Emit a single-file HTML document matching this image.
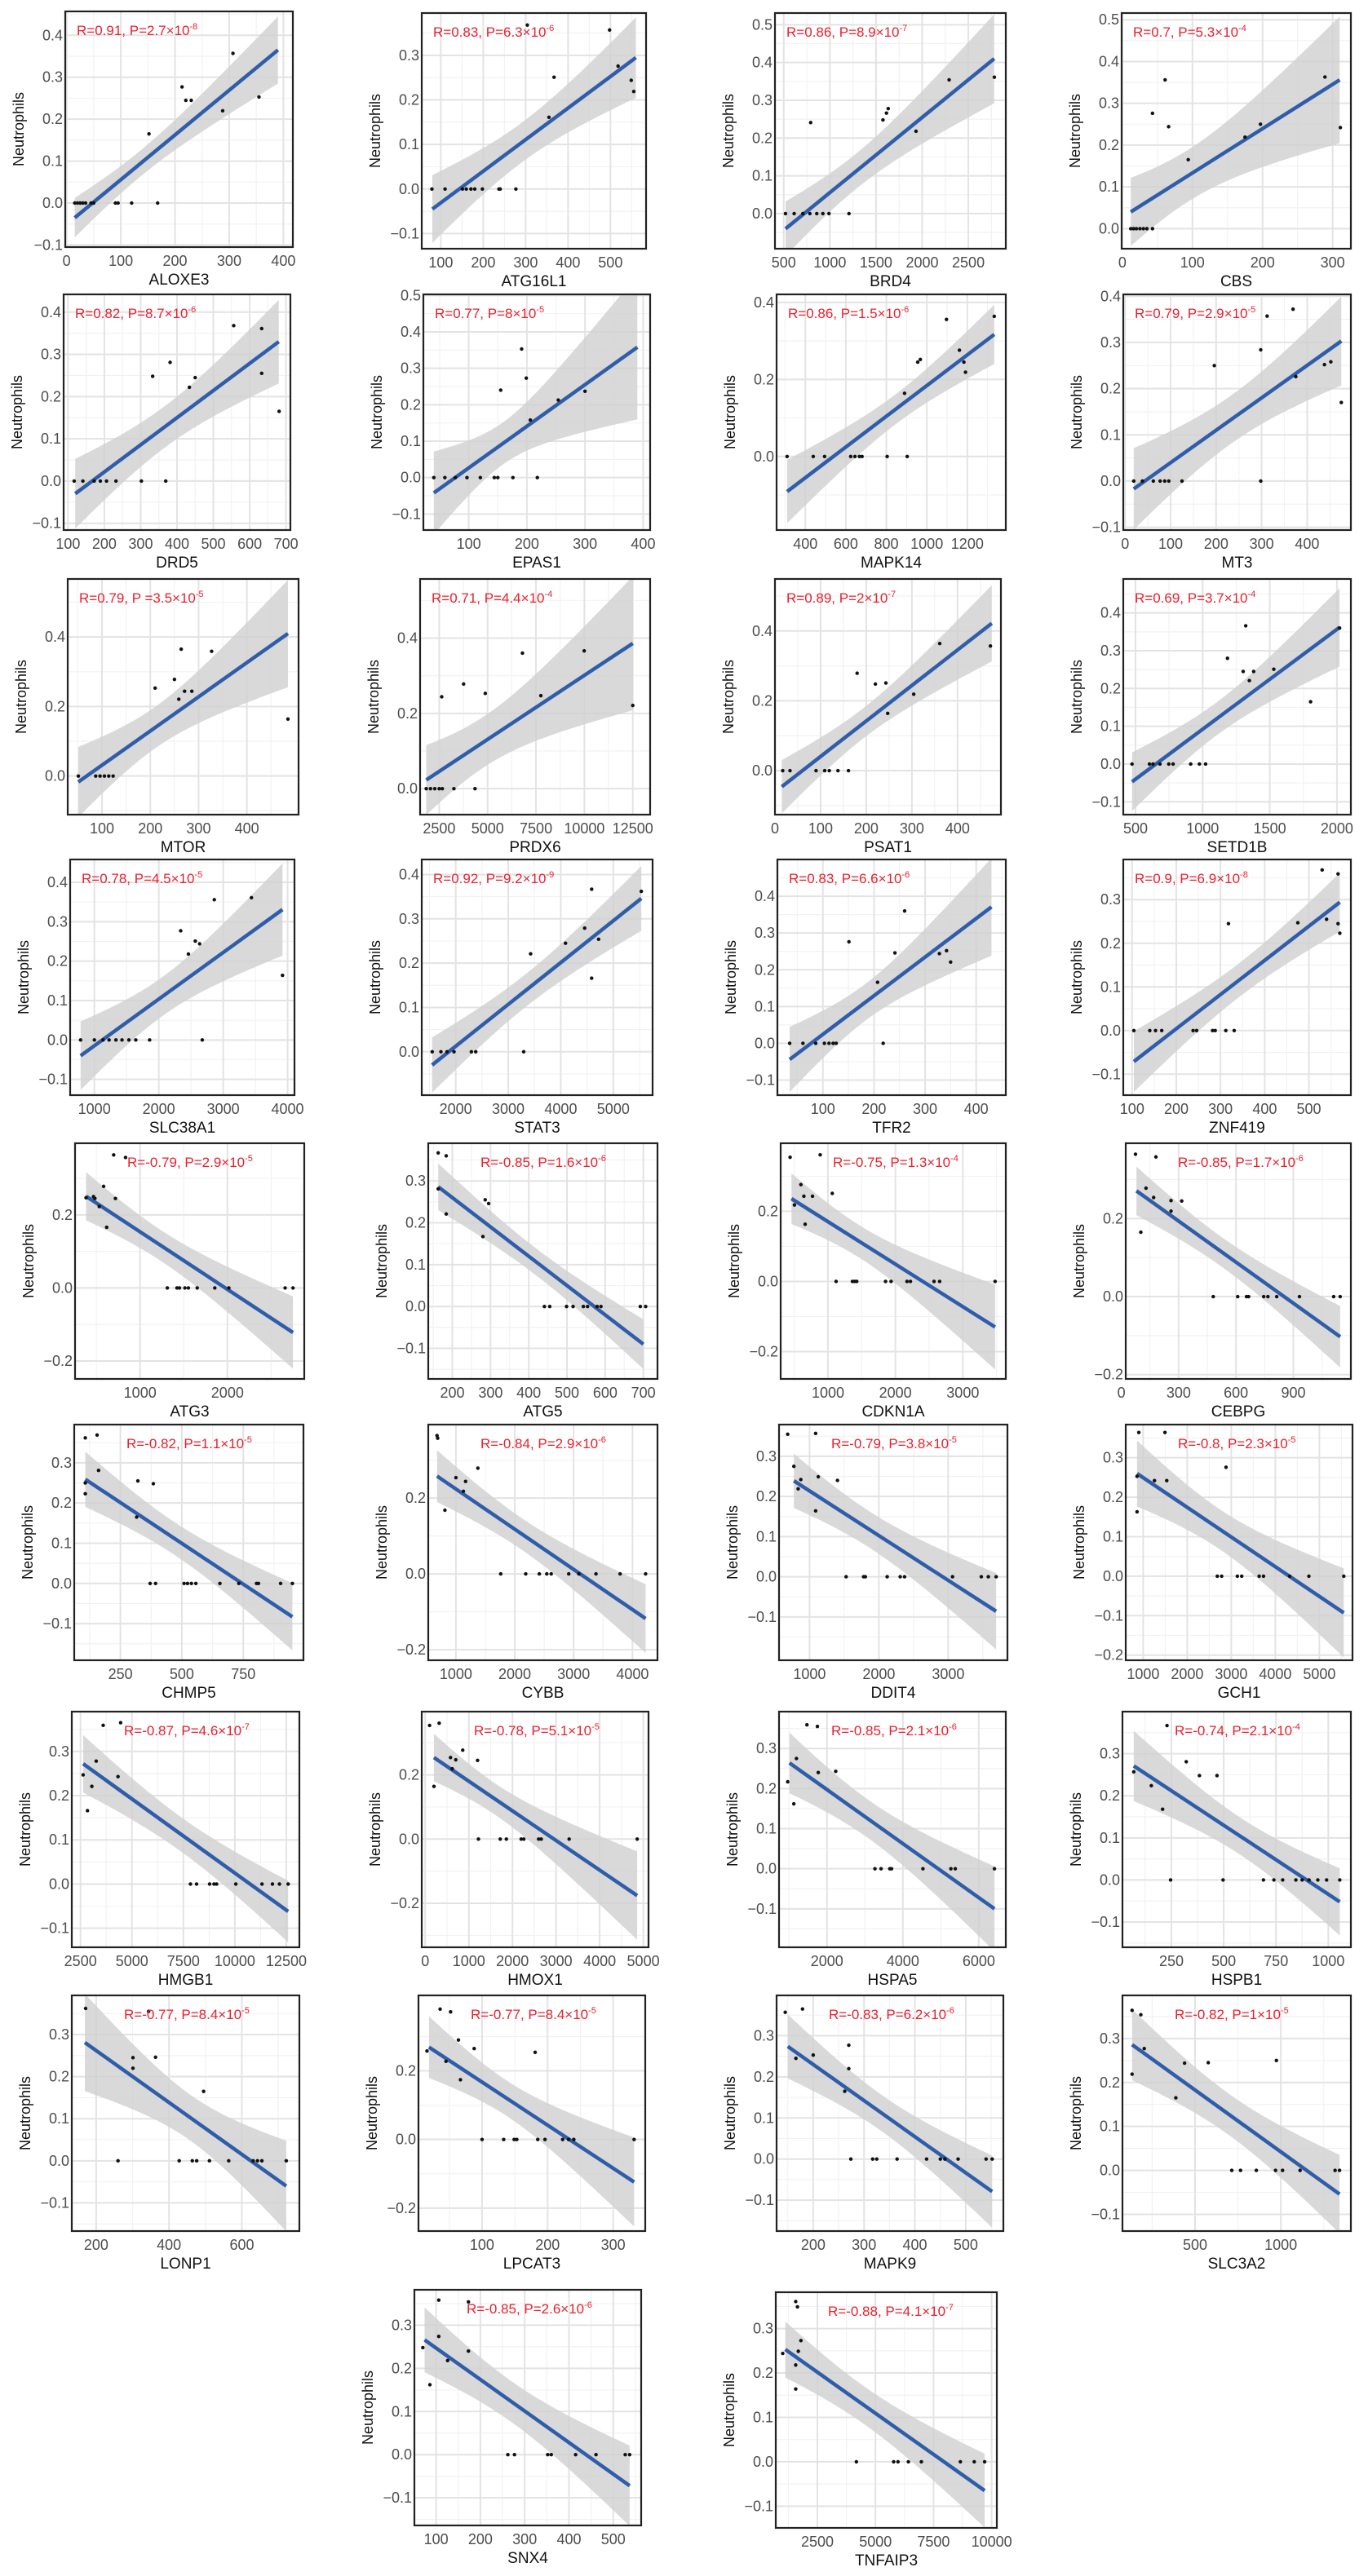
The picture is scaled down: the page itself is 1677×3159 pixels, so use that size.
<!DOCTYPE html>
<html><head><meta charset="utf-8">
<style>
html,body{margin:0;padding:0;background:#fff;}
svg{display:block;font-family:"Liberation Sans",Arial,sans-serif;}
</style></head>
<body>
<svg id="fig" width="1677" height="3159" viewBox="0 0 1677 3159" xmlns="http://www.w3.org/2000/svg"></svg>
<script>
const genes=["ALOXE3","ATG16L1","BRD4","CBS","DRD5","EPAS1","MAPK14","MT3","MTOR","PRDX6","PSAT1","SETD1B","SLC38A1","STAT3","TFR2","ZNF419","ATG3","ATG5","CDKN1A","CEBPG","CHMP5","CYBB","DDIT4","GCH1","HMGB1","HMOX1","HSPA5","HSPB1","LONP1","LPCAT3","MAPK9","SLC3A2","SNX4","TNFAIP3"];
const rVals=["0.91","0.83","0.86","0.7","0.82","0.77","0.86","0.79","0.79","0.71","0.89","0.69","0.78","0.92","0.83","0.9","-0.79","-0.85","-0.75","-0.85","-0.82","-0.84","-0.79","-0.8","-0.87","-0.78","-0.85","-0.74","-0.77","-0.77","-0.83","-0.82","-0.85","-0.88"];
const pMant=["2.7","6.3","8.9","5.3","8.7","8","1.5","2.9","3.5","4.4","2","3.7","4.5","9.2","6.6","6.9","2.9","1.6","1.3","1.7","1.1","2.9","3.8","2.3","4.6","5.1","2.1","2.1","8.4","8.4","6.2","1","2.6","4.1"];
const pExp=["-8","-6","-7","-4","-6","-5","-6","-5","-5","-4","-7","-4","-5","-9","-6","-8","-5","-6","-4","-6","-5","-6","-5","-5","-7","-5","-6","-4","-5","-5","-6","-5","-6","-7"];
const xTicks=[[0,100,200,300,400],[100,200,300,400,500],[500,1000,1500,2000,2500],[0,100,200,300],[100,200,300,400,500,600,700],[100,200,300,400],[400,600,800,1000,1200],[0,100,200,300,400],[100,200,300,400],[2500,5000,7500,10000,12500],[0,100,200,300,400],[500,1000,1500,2000],[1000,2000,3000,4000],[2000,3000,4000,5000],[100,200,300,400],[100,200,300,400,500],[1000,2000],[200,300,400,500,600,700],[1000,2000,3000],[0,300,600,900],[250,500,750],[1000,2000,3000,4000],[1000,2000,3000],[1000,2000,3000,4000,5000],[2500,5000,7500,10000,12500],[0,1000,2000,3000,4000,5000],[2000,4000,6000],[250,500,750,1000],[200,400,600],[100,200,300],[200,300,400,500],[500,1000],[100,200,300,400,500],[2500,5000,7500,10000]];
const yTicks=[[-0.1,0,0.1,0.2,0.3,0.4],[-0.1,0,0.1,0.2,0.3],[0,0.1,0.2,0.3,0.4,0.5],[0,0.1,0.2,0.3,0.4,0.5],[-0.1,0,0.1,0.2,0.3,0.4],[-0.1,0,0.1,0.2,0.3,0.4,0.5],[0,0.2,0.4],[-0.1,0,0.1,0.2,0.3,0.4],[0,0.2,0.4],[0,0.2,0.4],[0,0.2,0.4],[-0.1,0,0.1,0.2,0.3,0.4],[-0.1,0,0.1,0.2,0.3,0.4],[0,0.1,0.2,0.3,0.4],[-0.1,0,0.1,0.2,0.3,0.4],[-0.1,0,0.1,0.2,0.3],[-0.2,0,0.2],[-0.1,0,0.1,0.2,0.3],[-0.2,0,0.2],[-0.2,0,0.2],[-0.1,0,0.1,0.2,0.3],[-0.2,0,0.2],[-0.1,0,0.1,0.2,0.3],[-0.2,-0.1,0,0.1,0.2,0.3],[-0.1,0,0.1,0.2,0.3],[-0.2,0,0.2],[-0.1,0,0.1,0.2,0.3],[-0.1,0,0.1,0.2,0.3],[-0.1,0,0.1,0.2,0.3],[-0.2,0,0.2],[-0.1,0,0.1,0.2,0.3],[-0.1,0,0.1,0.2,0.3],[-0.1,0,0.1,0.2,0.3],[-0.1,0,0.1,0.2,0.3]];
const xDomains=[[-2.5,417.5],[55,584],[405,2906],[-1,326],[88,712],[22,412],[258,1390],[-4,496],[29,507],[1513,13397],[0,495],[409,2104],[624,4107],[1353,5748],[11,458],[80,595],[256,2879],[137,737],[299,3637],[23,1201],[62,995],[530,4425],[560,3855],[604,5752],[2076,13136],[-80,5120],[736,6713],[16,1108],[133,758],[3,349],[128,574],[77,1408],[51,563],[709,10224]];
const yDomains=[[-0.105,0.457],[-0.134,0.395],[-0.093,0.531],[-0.048,0.516],[-0.116,0.442],[-0.144,0.503],[-0.191,0.421],[-0.106,0.404],[-0.111,0.567],[-0.069,0.557],[-0.126,0.549],[-0.134,0.49],[-0.14,0.458],[-0.098,0.434],[-0.141,0.5],[-0.148,0.392],[-0.249,0.396],[-0.173,0.39],[-0.278,0.394],[-0.211,0.393],[-0.191,0.395],[-0.228,0.394],[-0.208,0.379],[-0.213,0.384],[-0.143,0.39],[-0.337,0.397],[-0.196,0.392],[-0.16,0.4],[-0.167,0.393],[-0.267,0.42],[-0.175,0.398],[-0.138,0.398],[-0.164,0.382],[-0.149,0.382]];
const pointsX=[
[15,20,25,30,35,45,50,90,95,120,168,152,213,220,230,288,307,355],
[79,110,151,160,171,180,198,237,240,277,367,355,304,498,518,549,555],
[519,613,707,783,858,924,990,1207,792,1575,1613,1632,1933,2292,2782],
[12,16,20,25,30,35,43,43,61,66,94,175,197,289,311],
[117,141,172,189,206,232,302,369,333,381,434,450,556,633,633,681],
[40,59,77,97,120,144,150,176,218,155,191,199,206,254,300],
[310,439,495,624,645,667,680,804,903,890,955,968,1097,1161,1183,1191,1333],
[19,38,62,77,87,96,125,298,196,298,312,369,375,438,452,475],
[51,87,96,105,114,123,210,250,259,264,271,286,327,485],
[1830,2050,2270,2500,2660,3260,4350,2630,3760,4880,6800,7750,9990,12500],
[17,33,90,109,119,138,161,180,220,243,247,304,361,472],
[474,604,630,682,748,780,911,976,1022,1185,1302,1321,1348,1380,1530,1804,2020],
[786,1000,1134,1228,1335,1429,1536,1643,1858,2675,2340,2460,2567,2634,2862,3439,3921],
[1552,1718,1834,1967,2298,2381,3294,3426,4090,4455,4588,4588,4720,5533],
[35,61,86,103,112,120,126,218,151,207,241,260,328,342,350],
[104,140,153,167,238,246,282,288,312,331,318,475,530,540,566,570,566],
[1312,1422,1452,1513,1553,1654,1855,2016,2660,2750,382,467,483,533,583,618,698,718,834],
[441,455,499,516,543,554,579,589,692,706,163,184,163,184,280,286,295],
[1121,1363,1395,1427,1854,1936,2172,2223,2573,2656,3478,439,885,599,643,771,1064,503,662],
[481,609,655,666,745,767,813,932,1111,1145,74,181,129,169,260,260,316,102],
[371,393,509,523,539,557,655,732,804,812,902,950,107,155,107,107,161,321,384,316],
[1761,2186,2417,2544,2619,2917,3089,3380,3790,4223,679,690,813,1000,1127,1164,1373],
[1528,1780,1805,2120,2308,2371,3063,3478,3579,3692,685,1088,774,836,874,1126,1403,1088],
[2683,2782,3138,3237,3633,3732,4326,4762,5554,901,1495,861,861,1257,1535,2881],
[7842,8139,8775,8987,9114,10047,11319,11828,12167,12591,2627,2839,3051,3263,3602,4450,4323],
[1220,1720,1860,2200,2260,2600,2660,3300,4860,100,320,200,620,580,700,860,1200],
[3264,3425,3655,3701,4529,5265,5380,6414,965,1126,1195,1471,1747,1770,2230],
[246,497,690,740,782,845,875,908,950,992,1055,70,154,208,229,321,384,468],
[260,428,464,476,511,564,631,643,655,722,171,301,301,344,363,495],
[100,133,149,153,185,196,223,232,240,332,16,36,52,45,64,67,88,181],
[274,317,325,365,423,450,459,485,540,552,145,179,166,200,262,270,270],
[714,765,857,969,1010,1112,1316,1342,133,184,133,204,388,439,577,974],
[262,277,352,360,415,461,527,537,70,86,106,106,126,173,173],
[4179,5783,5969,6417,6976,8655,9251,9699,1008,1567,1642,1679,1791,1567,1567]];
const pointsY=[
[0,0,0,0,0,0,0,0,0,0,0,.165,.277,.245,.245,.22,.357,.253],
[0,0,0,0,0,0,0,0,0,0,.251,.161,.368,.357,.276,.244,.219],
[0,0,0,0,0,0,0,0,.241,.248,.266,.278,.218,.354,.361],
[0,0,0,0,0,0,0,.276,.356,.244,.165,.219,.25,.363,.242],
[0,0,0,0,0,0,0,0,.248,.281,.222,.245,.368,.361,.255,.165],
[0,0,0,0,0,0,0,0,0,.24,.353,.273,.158,.213,.237],
[0,0,0,0,0,0,0,0,0,.164,.245,.252,.356,.276,.245,.219,.364],
[0,0,0,0,0,0,0,0,.25,.284,.357,.372,.226,.252,.258,.17],
[0,0,0,0,0,0,.253,.278,.221,.365,.244,.244,.359,.164],
[0,0,0,0,0,0,0,.244,.278,.253,.36,.247,.366,.221],
[0,0,0,0,0,0,0,.279,.248,.251,.164,.219,.364,.357],
[0,0,0,0,0,0,0,0,0,.28,.245,.366,.221,.245,.251,.165,.36],
[0,0,0,0,0,0,0,0,0,0,.277,.218,.251,.244,.356,.361,.164],
[0,0,0,0,0,0,0,.221,.245,.279,.367,.166,.254,.362],
[0,0,0,0,0,0,0,0,.276,.166,.246,.36,.244,.252,.221],
[0,0,0,0,0,0,0,0,0,0,.245,.247,.368,.255,.359,.223,.245],
[0,0,0,0,0,0,0,0,0,0,.247,.25,.245,.223,.278,.166,.364,.245,.357],
[0,0,0,0,0,0,0,0,0,0,.367,.36,.281,.221,.167,.255,.246],
[0,0,0,0,0,0,0,0,0,0,0,.354,.361,.276,.243,.243,.251,.218,.163],
[0,0,0,0,0,0,0,0,0,0,.365,.358,.278,.254,.246,.219,.245,.165],
[0,0,0,0,0,0,0,0,0,0,0,0,.362,.369,.25,.223,.281,.255,.248,.165],
[0,0,0,0,0,0,0,0,0,0,.365,.358,.168,.254,.218,.244,.279],
[0,0,0,0,0,0,0,0,0,0,.355,.357,.275,.219,.242,.249,.24,.164],
[0,0,0,0,0,0,0,0,0,.364,.364,.163,.253,.242,.242,.276],
[0,0,0,0,0,0,0,0,0,0,.247,.166,.221,.278,.359,.365,.243],
[0,0,0,0,0,0,0,0,0,.354,.361,.164,.219,.254,.247,.277,.245],
[0,0,0,0,0,0,0,0,.217,.162,.275,.359,.355,.24,.243],
[0,0,0,0,0,0,0,0,0,0,0,.257,.224,.168,.367,.281,.248,.248],
[0,0,0,0,0,0,0,0,0,0,.362,.245,.22,.355,.246,.165],
[0,0,0,0,0,0,0,0,0,0,.258,.38,.372,.228,.29,.174,.265,.254],
[0,0,0,0,0,0,0,0,0,0,.357,.365,.245,.253,.165,.277,.22],
[0,0,0,0,0,0,0,0,.364,.354,.219,.277,.165,.244,.245,.25],
[0,0,0,0,0,0,0,0,.248,.162,.358,.274,.218,.354,.24],
[0,0,0,0,0,0,0,0,.244,.361,.349,.249,.273,.218,.164]];
const fitX=[[15,390],[80,560],[520,2780],[12,310],[120,680],[40,390],[310,1333],[19,475],[51,485],[1830,12500],[15,475],[474,2020],[786,3921],[1550,5533],[35,430],[104,570],[382,2750],[163,700],[459,3478],[79,1145],[107,950],[679,4223],[774,3692],[861,5554],[2627,12591],[200,4860],[1011,6414],[70,1055],[169,722],[19,332],[150,552],[133,1342],[74,537],[1120,9699]];
const fitY=[[-0.035,0.365],[-0.045,0.295],[-0.04,0.41],[0.04,0.356],[-0.03,0.33],[-0.042,0.358],[-0.091,0.317],[-0.017,0.303],[-0.017,0.41],[0.023,0.386],[-0.046,0.422],[-0.047,0.362],[-0.04,0.331],[-0.03,0.346],[-0.044,0.371],[-0.071,0.294],[0.251,-0.122],[0.286,-0.09],[0.236,-0.13],[0.271,-0.103],[0.259,-0.083],[0.258,-0.118],[0.239,-0.086],[0.26,-0.093],[0.272,-0.062],[0.254,-0.176],[0.264,-0.1],[0.271,-0.052],[0.281,-0.06],[0.269,-0.124],[0.274,-0.079],[0.286,-0.054],[0.266,-0.072],[0.253,-0.065]];
// layout: [left, right, top] of each plotting panel box (pixels)
const boxes=[[80,359,14],[517,792,16],[950,1233,16],[1375,1656,16],[78,356,361],[519,797,361],[952,1233,361],[1377,1656,361],[83,366,710],[515,797,710],[950,1227,710],[1377,1656,710],[86,361,1054],[517,800,1054],[953,1233,1054],[1377,1656,1054],[92,373,1402],[525,806,1402],[957,1233,1402],[1380,1656,1402],[91,372,1747],[525,806,1747],[955,1235,1747],[1380,1658,1747],[88,367,2099],[517,795,2099],[955,1233,2099],[1376,1656,2099],[88,367,2447],[513,791,2447],[952,1230,2447],[1376,1656,2447],[508,786,2808],[951,1222,2811]];

const NS="http://www.w3.org/2000/svg";
const svg=document.getElementById('fig');
function mk(tag,attrs,parent){const e=document.createElementNS(NS,tag);for(const k in attrs)e.setAttribute(k,attrs[k]);parent.appendChild(e);return e;}
const defs=mk('defs',{},svg);
function fmtY(v){return v.toFixed(1).replace('-','\u2212');}

genes.forEach((g,i)=>{
  const [L,R,T]=boxes[i];const H=289;const B=T+H;const W=R-L;
  const xd=xDomains[i],yd=yDomains[i];
  const sx=v=>L+(v-xd[0])/(xd[1]-xd[0])*W;
  const sy=v=>B-(v-yd[0])/(yd[1]-yd[0])*H;
  const grp=mk('g',{},svg);
  
  
  const cp=mk('clipPath',{id:'c'+i},defs);
  mk('rect',{x:L,y:T,width:W,height:H},cp);
  const bg=mk('rect',{x:L,y:T,width:W,height:H,fill:'#fff'},grp);
  
  
  const inner=mk('g',{'clip-path':'url(#c'+i+')'},grp);
  // grid
  const gridG=mk('g',{},inner);
  
  
  const xt=xTicks[i],yt=yTicks[i];
  const dx=xt.length>1?xt[1]-xt[0]:1000,dy=yt[1]-yt[0];
  for(let v=xt[0]-dx/2;v<=xd[1];v+=dx){if(v>=xd[0])mk('line',{x1:sx(v),x2:sx(v),y1:T,y2:B,stroke:'#f2f2f2','stroke-width':1.2},gridG);}
  for(let v=yt[0]-dy/2;v<=yd[1]+1e-9;v+=dy){if(v>=yd[0])mk('line',{x1:L,x2:R,y1:sy(v),y2:sy(v),stroke:'#f2f2f2','stroke-width':1.2},gridG);}
  xt.forEach(v=>mk('line',{x1:sx(v),x2:sx(v),y1:T,y2:B,stroke:'#e3e3e3','stroke-width':2},gridG));
  yt.forEach(v=>mk('line',{x1:L,x2:R,y1:sy(v),y2:sy(v),stroke:'#e3e3e3','stroke-width':2},gridG));
  // confidence band computed from points around the fitted line
  const px=pointsX[i],py=pointsY[i],n=px.length;
  const fx=fitX[i],fy=fitY[i];
  const m=(fy[1]-fy[0])/(fx[1]-fx[0]);
  const f=x=>fy[0]+m*(x-fx[0]);
  const xbar=px.reduce((a,b)=>a+b,0)/n;
  let sxx=0,sse=0;
  for(let k=0;k<n;k++){sxx+=(px[k]-xbar)**2;sse+=(py[k]-f(px[k]))**2;}
  const s=Math.sqrt(sse/(n-2)),t=2.1;
  const up=[],lo=[];
  for(let k=0;k<=40;k++){const x=fx[0]+(fx[1]-fx[0])*k/40;const se=t*s*Math.sqrt(1/n+(x-xbar)**2/sxx);up.push(sx(x)+','+sy(f(x)+se));lo.unshift(sx(x)+','+sy(f(x)-se));}
  const band=mk('polygon',{points:up.concat(lo).join(' '),fill:'#cfcfcf','fill-opacity':0.8},inner);
  
  
  const ln=mk('line',{x1:sx(fx[0]),y1:sy(fy[0]),x2:sx(fx[1]),y2:sy(fy[1]),stroke:'#2f5daa','stroke-width':4.5,'stroke-linecap':'butt'},inner);
  
  
  const ptsG=mk('g',{},inner);
  
  
  for(let k=0;k<n;k++){
    const c=mk('circle',{cx:sx(px[k]),cy:sy(py[k]),r:2.2,fill:'#111'},ptsG);
    
    
  }
  const border=mk('rect',{x:L,y:T,width:W,height:H,fill:'none',stroke:'#222','stroke-width':2.2},grp);
  
  
  // annotation
  const neg=rVals[i].startsWith('-');
  const an=mk('text',{x:L+(neg?64:14),y:T+29,fill:'#e8202e','font-size':17},grp);
  
  
  an.textContent='R='+rVals[i]+', P='+(i===8?' ':'')+pMant[i]+'\u00d710';
  if(i===8){an.textContent='R='+rVals[i]+', P ='+pMant[i]+'\u00d710';}
  const sup=mk('tspan',{'font-size':11,dy:-7},an);sup.textContent=pExp[i];
  // ticks
  const xtg=mk('g',{},grp);
  
  
  xt.forEach(v=>{const tx=mk('text',{x:sx(v),y:B+23,'text-anchor':'middle','font-size':18,fill:'#4d4d4d'},xtg);tx.textContent=String(v);});
  const ytg=mk('g',{},grp);
  
  
  yt.forEach(v=>{const ty=mk('text',{x:L-3,y:sy(v)+6,'text-anchor':'end','font-size':18,fill:'#4d4d4d'},ytg);ty.textContent=fmtY(v);});
  const xl=mk('text',{x:(L+R)/2,y:B+46,'text-anchor':'middle','font-size':19,fill:'#111'},grp);
  
  
  xl.textContent=g;
  const yx=L-51,yy=T+H/2;
  const yl=mk('text',{x:yx,y:yy,'text-anchor':'middle','font-size':18,fill:'#111',transform:'rotate(-90 '+yx+' '+yy+')'},grp);
  
  
  yl.textContent='Neutrophils';
});
</script>
</body></html>
